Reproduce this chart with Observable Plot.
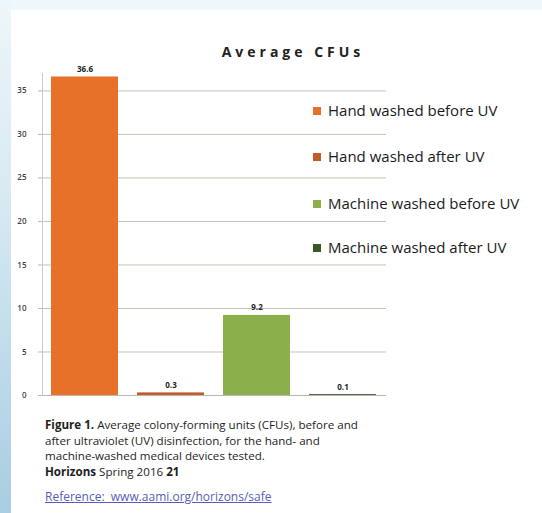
<!DOCTYPE html>
<html>
<head>
<meta charset="utf-8">
<script src="https://cdn.jsdelivr.net/npm/d3@7"></script>
<script src="https://cdn.jsdelivr.net/npm/@observablehq/plot@0.6"></script>
<style>
  html, body { margin: 0; padding: 0; }
  body { width: 542px; height: 513px; overflow: hidden; background: #eef7fb; position: relative; font-family: "Open Sans", sans-serif; }
  #leftstrip { position: absolute; left: 0; top: 0; width: 11px; height: 513px; background: linear-gradient(to bottom, #eef6fa 0%, #d6e9f3 40%, #a9cde1 100%); }
  #panel { position: absolute; left: 11px; top: 10px; width: 531px; height: 503px; background: #fff; }
  #chart { position: absolute; left: 0; top: 0; }
  #title { position: absolute; left: 0; top: 42px; width: 586px; text-align: center; font-weight: bold; font-size: 14px; letter-spacing: 4px; color: #222; }
  #legend { position: absolute; left: 313px; top: 0; }
  .item { position: absolute; left: 0; white-space: nowrap; font-size: 15px; color: #1a1a1a; font-weight: 500; }
  .sw { display: inline-block; width: 8px; height: 8px; margin-right: 7px; vertical-align: 1px; }
  #caption { position: absolute; left: 45px; top: 417px; font-size: 11.6px; line-height: 15.5px; color: #1e1e1e; white-space: nowrap; }
  #link { position: absolute; left: 45px; top: 488px; font-size: 12px; color: #5b5bb8; text-decoration: underline; white-space: nowrap; }
</style>
</head>
<body>
<div id="leftstrip"></div>
<div id="panel"></div>
<div id="chart"></div>
<div id="title">Average CFUs</div>
<div id="legend"></div>
<div id="caption"><b>Figure 1.</b> Average colony-forming units (CFUs), before and<br>after ultraviolet (UV) disinfection, for the hand- and<br>machine-washed medical devices tested.<br><b>Horizons</b> Spring 2016 <b>21</b></div>
<div id="link">Reference:&nbsp; www.aami.org/horizons/safe</div>
<script>
const categories = ["Hand washed before UV", "Hand washed after UV", "Machine washed before UV", "Machine washed after UV"];
const values = [36.6, 0.3, 9.2, 0.1];
const colors = ["#e8712a", "#c4592b", "#8bb04b", "#3b5626"];
const yTicks = [0, 5, 10, 15, 20, 25, 30, 35];
const legendTops = [100, 146, 193, 237];

const data = categories.map((c, i) => ({cat: c, val: values[i]}));

const chart = Plot.plot({
  width: 542,
  height: 405,
  marginLeft: 42,
  marginRight: 156,
  marginTop: 73,
  marginBottom: 10,
  style: {background: "transparent", fontFamily: "Open Sans, sans-serif"},
  x: {domain: categories, axis: null, paddingInner: 0.22, paddingOuter: 0.11},
  y: {domain: [0, 37], label: null},
  color: {domain: categories, range: colors},
  marks: [
    Plot.gridY(yTicks.filter(d => d > 0), {stroke: "#c8c0ba", strokeOpacity: 1}),
    Plot.barY(data, {x: "cat", y: "val", fill: "cat"}),
    Plot.ruleY([0], {stroke: "#b8b8b8"}),
    Plot.frame({anchor: "left", stroke: "#c8c8c8"}),
    Plot.axisY({ticks: yTicks, label: null, tickSize: 4, tickPadding: 12, fontSize: 8, fontWeight: 600, stroke: "#bbb", fill: "#444"}),
    Plot.text(data, {x: "cat", y: "val", text: d => d.val.toFixed(1), dy: -5, lineAnchor: "bottom", fontWeight: "bold", fontSize: 8, fill: "#222"})
  ]
});
document.getElementById("chart").appendChild(chart);

const legend = document.getElementById("legend");
categories.forEach((c, i) => {
  const div = document.createElement("div");
  div.className = "item";
  div.style.top = legendTops[i] + "px";
  div.innerHTML = `<span class="sw" style="background:${colors[i]}"></span>${c}`;
  legend.appendChild(div);
});
</script>
</body>
</html>
